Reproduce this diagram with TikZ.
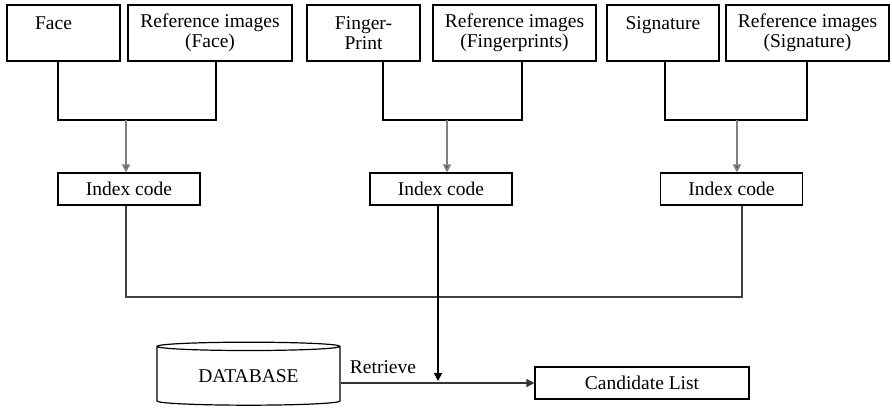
\documentclass[tikz,border=0pt]{standalone}
\usepackage{fontspec}
\setmainfont{Liberation Serif}
\usepackage{tikz}
\usetikzlibrary{arrows.meta,calc,positioning,shapes.geometric}
\tikzset{
  inbox/.style={draw, line width=1.2pt, minimum height=56pt, inner sep=2pt, align=center,
    font=\fontsize{19.5}{20}\selectfont},
  idxbox/.style={draw, line width=1.2pt, minimum width=142pt, minimum height=32pt, inner sep=2pt,
    font=\fontsize{19.5}{20}\selectfont},
  arr/.style={-{Triangle[width=8pt,length=8pt]}, line width=1.6pt},
  grayarr/.style={-{Triangle[width=8pt,length=8pt,fill=black]}, draw=black!50, line width=2.6pt},
  lbl/.style={inner sep=1pt, font=\fontsize{19.5}{20}\selectfont},
  every picture/.style={line cap=butt, line join=miter}
}

\begin{document}
\begin{tikzpicture}[x=1pt,y=-1pt]
  \useasboundingbox (0,0) rectangle (892,410);

  % inputs
  \node[inbox, minimum width=113pt] (face) at (63.5,33) {Face\hspace*{20pt}\\~};
  \node[inbox, minimum width=164pt] (refface) at (210,33) {Reference images\\(Face)};
  \node[inbox, minimum width=113pt] (finger) at (363.5,33) {Finger-\\Print};
  \node[inbox, minimum width=163pt] (reffinger) at (514.5,33) {Reference images\\(Fingerprints)};
  \node[inbox, minimum width=112pt] (sig) at (663,33) {Signature\\~};
  \node[inbox, minimum width=163pt] (refsig) at (807.5,33) {Reference images\\(Signature)};

  % index codes
  \node[idxbox] (idxface) at (129,189) {Index code};
  \node[idxbox] (idxfinger) at (441,189) {Index code};
  \node[idxbox] (idxsig) at (731.5,189) {Index code};

  \node[cylinder, shape border rotate=90, aspect=0.08, draw, line width=1.2pt,
    minimum width=183pt, minimum height=63pt, inner sep=2pt,
    font=\fontsize{19.5}{20}\selectfont] (db) at (248.5,376.5) {DATABASE};
  \node[idxbox, minimum width=214pt] (cand) at (642,383) {Candidate List};
  \node[lbl] (ret) at (383,367) {Retrieve};

  \coordinate (fL) at (58,120);  \coordinate (fR) at (216,120);  \coordinate (fM) at (126,120);
  \coordinate (pL) at (383,120); \coordinate (pR) at (522,120); \coordinate (pM) at (447,120);
  \coordinate (sL) at (665,120); \coordinate (sR) at (807,120); \coordinate (sM) at (737,120);
  \coordinate (bF) at (126,297); \coordinate (bS) at (742,297); \coordinate (bM) at (438,297);
  \coordinate (hit) at (438,381);

  \draw[line width=1.2pt] (face.south -| fL) -- (fL) -- (fR) -- (refface.south -| fR);
  \draw[line width=1.2pt] (finger.south -| pL) -- (pL) -- (pR) -- (reffinger.south -| pR);
  \draw[line width=1.2pt] (sig.south -| sL) -- (sL) -- (sR) -- (refsig.south -| sR);
  \draw[grayarr] (fM) -- (idxface.north -| fM);
  \draw[grayarr] (pM) -- (idxfinger.north -| pM);
  \draw[grayarr] (sM) -- (idxsig.north -| sM);

  \draw[line width=1.2pt, draw=black!75] (idxface.south -| bF) -- (bF) -- (bS) -- (idxsig.south -| bS);
  \draw[arr] (idxfinger.south -| bM) -- (hit);
  \draw[arr, draw=black!80] (db.east |- cand.west) -- (cand.west);
\end{tikzpicture}
\end{document}
